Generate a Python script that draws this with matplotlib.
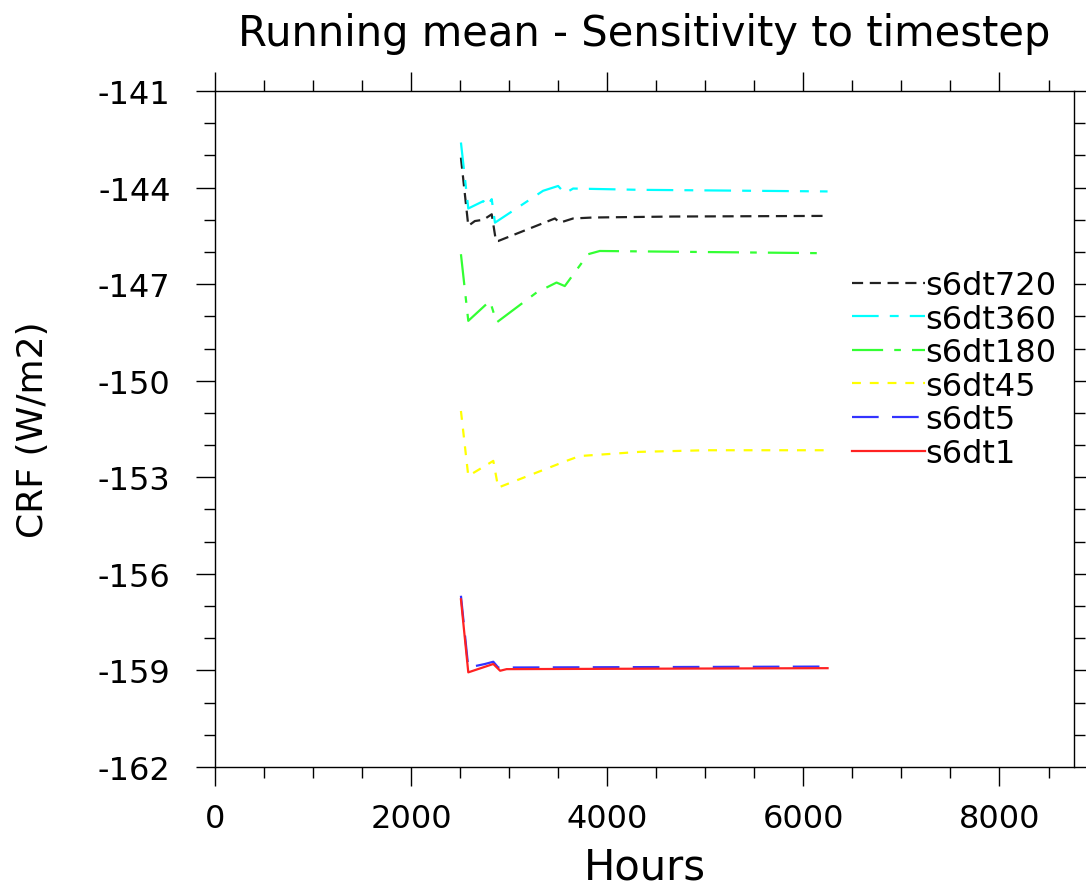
import matplotlib
matplotlib.use("Agg")
import matplotlib.pyplot as plt
from matplotlib.ticker import MultipleLocator

plt.rcParams['font.family'] = ['DejaVu Sans']
plt.rcParams['axes.unicode_minus'] = False

# running-mean curves
hours_720 = [2508, 2583, 2650, 2737, 2822, 2865, 2888, 3466, 3517, 3652, 3853, 4667, 6231]
crf_720 = [-143.07, -145.19, -145.04, -145.0, -144.83, -145.66, -145.66, -144.96, -145.09,
           -144.96, -144.93, -144.90, -144.88]

hours_360 = [2508, 2583, 2737, 2771, 2822, 2855, 3346, 3499, 3567, 3652, 4332, 6247]
crf_360 = [-142.60, -144.65, -144.42, -144.59, -144.36, -145.09, -144.10, -143.95, -144.18,
           -144.03, -144.07, -144.12]

hours_180 = [2508, 2583, 2804, 2872, 3279, 3483, 3567, 3805, 3924, 6247]
crf_180 = [-146.07, -148.14, -147.52, -148.19, -147.26, -146.95, -147.06, -146.07, -145.97, -146.04]

hours_45 = [2508, 2583, 2838, 2888, 3584, 3720, 4331, 5010, 6247]
crf_45 = [-150.94, -152.96, -152.49, -153.32, -152.49, -152.34, -152.21, -152.16, -152.16]

hours_5 = [2508, 2583, 2753, 2838, 2888, 4000, 6247]
crf_5 = [-156.68, -158.91, -158.80, -158.73, -158.91, -158.90, -158.88]

hours_1 = [2508, 2583, 2838, 2908, 2974, 4000, 6247]
crf_1 = [-156.79, -159.06, -158.80, -159.01, -158.96, -158.95, -158.93]

labels = ['s6dt720', 's6dt360', 's6dt180', 's6dt45', 's6dt5', 's6dt1']

fig = plt.figure(figsize=(10.86, 8.87), dpi=100)
ax = fig.add_axes([215 / 1086, 1 - 768 / 887, 859 / 1086, 676 / 887])

ax.plot(hours_720, crf_720, color='#222222', lw=1.6, dashes=(5, 3), label=labels[0])
ax.plot(hours_360, crf_360, color='#00ffff', lw=1.6, dashes=(12, 5, 4, 5), label=labels[1])
ax.plot(hours_180, crf_180, color='#33ff33', lw=1.6, dashes=(14, 5, 3, 5), label=labels[2])
ax.plot(hours_45, crf_45, color='#ffff00', lw=1.6, dashes=(4, 4), label=labels[3])
ax.plot(hours_5, crf_5, color='#3333ff', lw=1.6, dashes=(12, 6), label=labels[4])
ax.plot(hours_1, crf_1, color='#ff2222', lw=1.6, label=labels[5])

ax.set_xlim(0, 8760)
ax.set_ylim(-162, -141)
ax.xaxis.set_major_locator(MultipleLocator(2000))
ax.xaxis.set_minor_locator(MultipleLocator(500))
ax.yaxis.set_major_locator(MultipleLocator(3))
ax.yaxis.set_minor_locator(MultipleLocator(1))
ax.tick_params(which='both', direction='out', top=True, right=True, width=1.0)
ax.tick_params(which='major', length=14)
ax.tick_params(which='minor', length=8)
ax.tick_params(axis='x', labelsize=23, pad=12)
ax.tick_params(axis='y', labelsize=23, pad=18)
for s in ax.spines.values():
    s.set_linewidth(1.0)

ax.set_title('Running mean - Sensitivity to timestep', fontsize=30, pad=33)
ax.set_xlabel('Hours', fontsize=30, labelpad=8)
ax.set_ylabel('CRF (W/m2)', fontsize=26)
ax.yaxis.set_label_coords(-0.192, 0.5)

ax.legend(loc='upper left', bbox_to_anchor=(852 / 1086, 1 - 271 / 887),
          bbox_transform=fig.transFigure, frameon=False, fontsize=23,
          handlelength=2.3, handletextpad=0.0, labelspacing=0.08,
          borderpad=0, borderaxespad=0)

fig.savefig('out.png', dpi=100)
